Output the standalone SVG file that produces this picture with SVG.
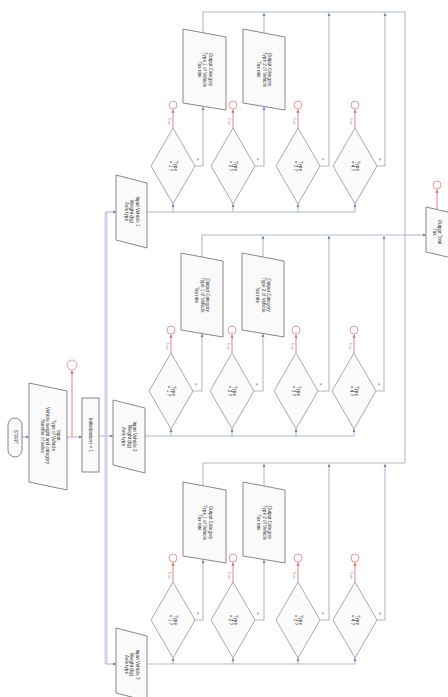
<svg xmlns="http://www.w3.org/2000/svg" width="448" height="697" viewBox="0 0 448 697">
<style>
.n{fill:#fafafa;stroke:#7a7a7a;stroke-width:0.9}
.d{fill:#fbfbfb;stroke:#a0a0a0;stroke-width:0.9}
.c{fill:none;stroke:#b0b7d6;stroke-width:1.1}
.b{fill:none;stroke:#cdd2ee;stroke-width:3}
.r{fill:none;stroke:#e39090;stroke-width:1.1}
.rc{fill:#fff;stroke:#e39090;stroke-width:0.9}
.t{font-family:"Liberation Sans",Arial,sans-serif;font-size:4.6px;fill:#333;text-anchor:middle}
.s{font-family:"Liberation Sans",Arial,sans-serif;font-size:3.6px;fill:#777;text-anchor:middle}
</style>
<defs>
<marker id="a" viewBox="0 0 6 6" refX="6" refY="3" markerWidth="3" markerHeight="3" orient="auto"><path d="M0,0L6,3L0,6z" fill="#7a80a0"/></marker>
<marker id="ar" viewBox="0 0 6 6" refX="6" refY="3" markerWidth="3" markerHeight="3" orient="auto"><path d="M0,0L6,3L0,6z" fill="#d87070"/></marker>
</defs>

<g id="connectors">
<line class="c" x1="22" y1="437" x2="29" y2="437" marker-end="url(#a)"/>
<line class="c" x1="67" y1="437" x2="82" y2="437" marker-end="url(#a)"/>
<line class="r" x1="72" y1="437" x2="72" y2="370.5" marker-end="url(#ar)"/>
<line class="c" x1="99" y1="436" x2="113" y2="436" marker-end="url(#a)"/>
<path class="b" d="M106,212V664"/>
<line class="c" x1="106" y1="212" x2="116" y2="212" marker-end="url(#a)"/>
<line class="c" x1="106" y1="664" x2="116" y2="664" marker-end="url(#a)"/>
<path class="c" d="M405,12V463"/>
<line class="c" x1="405" y1="235" x2="426" y2="235" marker-end="url(#a)"/>
<line class="r" x1="437" y1="209" x2="437" y2="189.5" marker-end="url(#ar)"/>

<path class="c" d="M147,212H355"/>
<line class="c" x1="173" y1="212" x2="173" y2="204" marker-end="url(#a)"/>
<line class="c" x1="233" y1="212" x2="233" y2="204" marker-end="url(#a)"/>
<line class="c" x1="298" y1="212" x2="298" y2="204" marker-end="url(#a)"/>
<line class="c" x1="355" y1="212" x2="355" y2="204" marker-end="url(#a)"/>
<line class="r" x1="173" y1="128" x2="173" y2="109.5" marker-end="url(#ar)"/>
<line class="r" x1="233" y1="128" x2="233" y2="109.5" marker-end="url(#ar)"/>
<line class="r" x1="298" y1="128" x2="298" y2="109.5" marker-end="url(#ar)"/>
<line class="r" x1="355" y1="128" x2="355" y2="109.5" marker-end="url(#ar)"/>
<path class="c" d="M195,166H203V107" marker-end="url(#a)"/>
<path class="c" d="M255,166H264V107" marker-end="url(#a)"/>
<path class="c" d="M320,166H329V13" marker-end="url(#a)"/>
<path class="c" d="M377,166H385V13" marker-end="url(#a)"/>
<path class="c" d="M203,33V12H405"/>
<line class="c" x1="264" y1="33" x2="264" y2="13" marker-end="url(#a)"/>

<path class="c" d="M145,436H354"/>
<line class="c" x1="171" y1="436" x2="171" y2="429" marker-end="url(#a)"/>
<line class="c" x1="232" y1="436" x2="232" y2="429" marker-end="url(#a)"/>
<line class="c" x1="296" y1="436" x2="296" y2="429" marker-end="url(#a)"/>
<line class="c" x1="354" y1="436" x2="354" y2="429" marker-end="url(#a)"/>
<line class="r" x1="171" y1="353" x2="171" y2="334.5" marker-end="url(#ar)"/>
<line class="r" x1="232" y1="353" x2="232" y2="334.5" marker-end="url(#ar)"/>
<line class="r" x1="296" y1="353" x2="296" y2="334.5" marker-end="url(#ar)"/>
<line class="r" x1="354" y1="353" x2="354" y2="334.5" marker-end="url(#ar)"/>
<path class="c" d="M193,391H202V334" marker-end="url(#a)"/>
<path class="c" d="M254,391H263V334" marker-end="url(#a)"/>
<path class="c" d="M318,391H329V236" marker-end="url(#a)"/>
<path class="c" d="M376,391H384V236" marker-end="url(#a)"/>
<path class="c" d="M202,257V235H405"/>
<line class="c" x1="263" y1="257" x2="263" y2="236" marker-end="url(#a)"/>

<path class="c" d="M147,664H355"/>
<line class="c" x1="173" y1="664" x2="173" y2="658" marker-end="url(#a)"/>
<line class="c" x1="233" y1="664" x2="233" y2="658" marker-end="url(#a)"/>
<line class="c" x1="298" y1="664" x2="298" y2="658" marker-end="url(#a)"/>
<line class="c" x1="355" y1="664" x2="355" y2="658" marker-end="url(#a)"/>
<line class="r" x1="173" y1="583" x2="173" y2="562.5" marker-end="url(#ar)"/>
<line class="r" x1="233" y1="583" x2="233" y2="562.5" marker-end="url(#ar)"/>
<line class="r" x1="298" y1="583" x2="298" y2="562.5" marker-end="url(#ar)"/>
<line class="r" x1="355" y1="583" x2="355" y2="562.5" marker-end="url(#ar)"/>
<path class="c" d="M195,620H203V560" marker-end="url(#a)"/>
<path class="c" d="M255,620H264V560" marker-end="url(#a)"/>
<path class="c" d="M320,620H329V464" marker-end="url(#a)"/>
<path class="c" d="M377,620H385V464" marker-end="url(#a)"/>
<path class="c" d="M203,486V463H405"/>
<line class="c" x1="264" y1="486" x2="264" y2="464" marker-end="url(#a)"/>
</g>

<g id="start"><rect class="n" x="8" y="418" width="14" height="39" rx="7"/><text class="t" transform="translate(15,437) rotate(90)" dy="1.5">START</text></g>
<g id="input-main"><polygon class="n" points="29,383 67,391 67,490 29,482"/>
<text class="t" transform="translate(48,436) rotate(90)"><tspan x="0" dy="-9">Input:</tspan><tspan x="0" dy="5.5">Type of Vehicle,</tspan><tspan x="0" dy="5.5">Vehicle weight and category,</tspan><tspan x="0" dy="5.5">Number of axles</tspan></text></g>
<g id="end-main"><circle class="rc" cx="72" cy="365" r="5"/><text class="s" x="72" y="366.3">–</text></g>
<g id="init"><rect class="n" x="82" y="398" width="17" height="74"/><text class="t" transform="translate(90.5,435) rotate(90)" dy="1.5">Initialization i = 1</text></g>

<g id="in-1"><polygon class="n" points="116,175 147,183 147,248 116,240"/>
<text class="t" transform="translate(131.5,211.5) rotate(90)"><tspan x="0" dy="-4">Input Vehicle 1</tspan><tspan x="0" dy="5.5">Weight (kg)</tspan><tspan x="0" dy="5.5">Axle type</tspan></text></g>
<g id="d-1-1"><polygon class="d" points="173,128 195,166 173,204 151,166"/><text class="t" transform="translate(173,166) rotate(90)"><tspan x="0" dy="-1">Type</tspan><tspan x="0" dy="5.5">= 1 ?</tspan></text><text class="s" transform="translate(168,121) rotate(90)">True</text><text class="s" x="198" y="161">F</text><circle class="rc" cx="173" cy="105" r="4"/></g>
<g id="d-1-2"><polygon class="d" points="233,128 255,166 233,204 211,166"/><text class="t" transform="translate(233,166) rotate(90)"><tspan x="0" dy="-1">Type</tspan><tspan x="0" dy="5.5">= 2 ?</tspan></text><text class="s" transform="translate(228,121) rotate(90)">True</text><text class="s" x="258" y="161">F</text><circle class="rc" cx="233" cy="105" r="4"/></g>
<g id="d-1-3"><polygon class="d" points="298,128 320,166 298,204 276,166"/><text class="t" transform="translate(298,166) rotate(90)"><tspan x="0" dy="-1">Type</tspan><tspan x="0" dy="5.5">= 3 ?</tspan></text><text class="s" transform="translate(293,121) rotate(90)">True</text><text class="s" x="323" y="161">F</text><circle class="rc" cx="298" cy="105" r="4"/></g>
<g id="d-1-4"><polygon class="d" points="355,128 377,166 355,204 333,166"/><text class="t" transform="translate(355,166) rotate(90)"><tspan x="0" dy="-1">Type</tspan><tspan x="0" dy="5.5">= 4 ?</tspan></text><text class="s" transform="translate(350,121) rotate(90)">True</text><text class="s" x="380" y="161">F</text><circle class="rc" cx="355" cy="105" r="4"/></g>
<g id="o-1-1"><polygon class="n" points="183,29 226,37 226,110 183,103"/><text class="t" transform="translate(204.5,69.5) rotate(90)"><tspan x="0" dy="-4">Output Category</tspan><tspan x="0" dy="5.5">Type 1 of Vehicle</tspan><tspan x="0" dy="5.5">Tax rate</tspan></text></g>
<g id="o-1-2"><polygon class="n" points="243,29 285,37 285,110 243,103"/><text class="t" transform="translate(264,69.5) rotate(90)"><tspan x="0" dy="-4">Output Category</tspan><tspan x="0" dy="5.5">Type 2 of Vehicle</tspan><tspan x="0" dy="5.5">Tax rate</tspan></text></g>

<g id="in-2"><polygon class="n" points="113,400 145,408 145,473 113,465"/>
<text class="t" transform="translate(129,436.5) rotate(90)"><tspan x="0" dy="-4">Input Vehicle 2</tspan><tspan x="0" dy="5.5">Weight (kg)</tspan><tspan x="0" dy="5.5">Axle type</tspan></text></g>
<g id="d-2-1"><polygon class="d" points="171,353 193,391 171,429 149,391"/><text class="t" transform="translate(171,391) rotate(90)"><tspan x="0" dy="-1">Type</tspan><tspan x="0" dy="5.5">= 1 ?</tspan></text><text class="s" transform="translate(166,346) rotate(90)">True</text><text class="s" x="196" y="386">F</text><circle class="rc" cx="171" cy="330" r="4"/></g>
<g id="d-2-2"><polygon class="d" points="232,353 254,391 232,429 210,391"/><text class="t" transform="translate(232,391) rotate(90)"><tspan x="0" dy="-1">Type</tspan><tspan x="0" dy="5.5">= 2 ?</tspan></text><text class="s" transform="translate(227,346) rotate(90)">True</text><text class="s" x="257" y="386">F</text><circle class="rc" cx="232" cy="330" r="4"/></g>
<g id="d-2-3"><polygon class="d" points="296,353 318,391 296,429 274,391"/><text class="t" transform="translate(296,391) rotate(90)"><tspan x="0" dy="-1">Type</tspan><tspan x="0" dy="5.5">= 3 ?</tspan></text><text class="s" transform="translate(291,346) rotate(90)">True</text><text class="s" x="321" y="386">F</text><circle class="rc" cx="296" cy="330" r="4"/></g>
<g id="d-2-4"><polygon class="d" points="354,353 376,391 354,429 332,391"/><text class="t" transform="translate(354,391) rotate(90)"><tspan x="0" dy="-1">Type</tspan><tspan x="0" dy="5.5">= 4 ?</tspan></text><text class="s" transform="translate(349,346) rotate(90)">True</text><text class="s" x="379" y="386">F</text><circle class="rc" cx="354" cy="330" r="4"/></g>
<g id="o-2-1"><polygon class="n" points="181,253 223,261 223,337 181,330"/><text class="t" transform="translate(202,295) rotate(90)"><tspan x="0" dy="-4">Output Category</tspan><tspan x="0" dy="5.5">Type 1 of Vehicle</tspan><tspan x="0" dy="5.5">Tax rate</tspan></text></g>
<g id="o-2-2"><polygon class="n" points="242,253 284,261 284,337 242,330"/><text class="t" transform="translate(263,295) rotate(90)"><tspan x="0" dy="-4">Output Category</tspan><tspan x="0" dy="5.5">Type 2 of Vehicle</tspan><tspan x="0" dy="5.5">Tax rate</tspan></text></g>

<g id="in-3"><polygon class="n" points="116,628 147,636 147,701 116,693"/>
<text class="t" transform="translate(131.5,664.5) rotate(90)"><tspan x="0" dy="-4">Input Vehicle 3</tspan><tspan x="0" dy="5.5">Weight (kg)</tspan><tspan x="0" dy="5.5">Axle type</tspan></text></g>
<g id="d-3-1"><polygon class="d" points="173,582 195,620 173,658 151,620"/><text class="t" transform="translate(173,620) rotate(90)"><tspan x="0" dy="-1">Type</tspan><tspan x="0" dy="5.5">= 1 ?</tspan></text><text class="s" transform="translate(168,575) rotate(90)">True</text><text class="s" x="198" y="615">F</text><circle class="rc" cx="173" cy="558" r="4"/></g>
<g id="d-3-2"><polygon class="d" points="233,582 255,620 233,658 211,620"/><text class="t" transform="translate(233,620) rotate(90)"><tspan x="0" dy="-1">Type</tspan><tspan x="0" dy="5.5">= 2 ?</tspan></text><text class="s" transform="translate(228,575) rotate(90)">True</text><text class="s" x="258" y="615">F</text><circle class="rc" cx="233" cy="558" r="4"/></g>
<g id="d-3-3"><polygon class="d" points="298,582 320,620 298,658 276,620"/><text class="t" transform="translate(298,620) rotate(90)"><tspan x="0" dy="-1">Type</tspan><tspan x="0" dy="5.5">= 3 ?</tspan></text><text class="s" transform="translate(293,575) rotate(90)">True</text><text class="s" x="323" y="615">F</text><circle class="rc" cx="298" cy="558" r="4"/></g>
<g id="d-3-4"><polygon class="d" points="355,582 377,620 355,658 333,620"/><text class="t" transform="translate(355,620) rotate(90)"><tspan x="0" dy="-1">Type</tspan><tspan x="0" dy="5.5">= 4 ?</tspan></text><text class="s" transform="translate(350,575) rotate(90)">True</text><text class="s" x="380" y="615">F</text><circle class="rc" cx="355" cy="558" r="4"/></g>
<g id="o-3-1"><polygon class="n" points="183,482 226,490 226,563 183,556"/><text class="t" transform="translate(204.5,522.5) rotate(90)"><tspan x="0" dy="-4">Output Category</tspan><tspan x="0" dy="5.5">Type 1 of Vehicle</tspan><tspan x="0" dy="5.5">Tax rate</tspan></text></g>
<g id="o-3-2"><polygon class="n" points="243,482 285,490 285,563 243,556"/><text class="t" transform="translate(264,522.5) rotate(90)"><tspan x="0" dy="-4">Output Category</tspan><tspan x="0" dy="5.5">Type 2 of Vehicle</tspan><tspan x="0" dy="5.5">Tax rate</tspan></text></g>

<g id="end-box"><polygon class="n" points="426,207 452,213 452,258 426,252"/><text class="t" transform="translate(437,232) rotate(90)"><tspan x="0" dy="-1">Output Total</tspan><tspan x="0" dy="5.5">Tax</tspan></text></g>
<g id="end-circle"><circle class="rc" cx="437" cy="185" r="4"/></g>
</svg>
